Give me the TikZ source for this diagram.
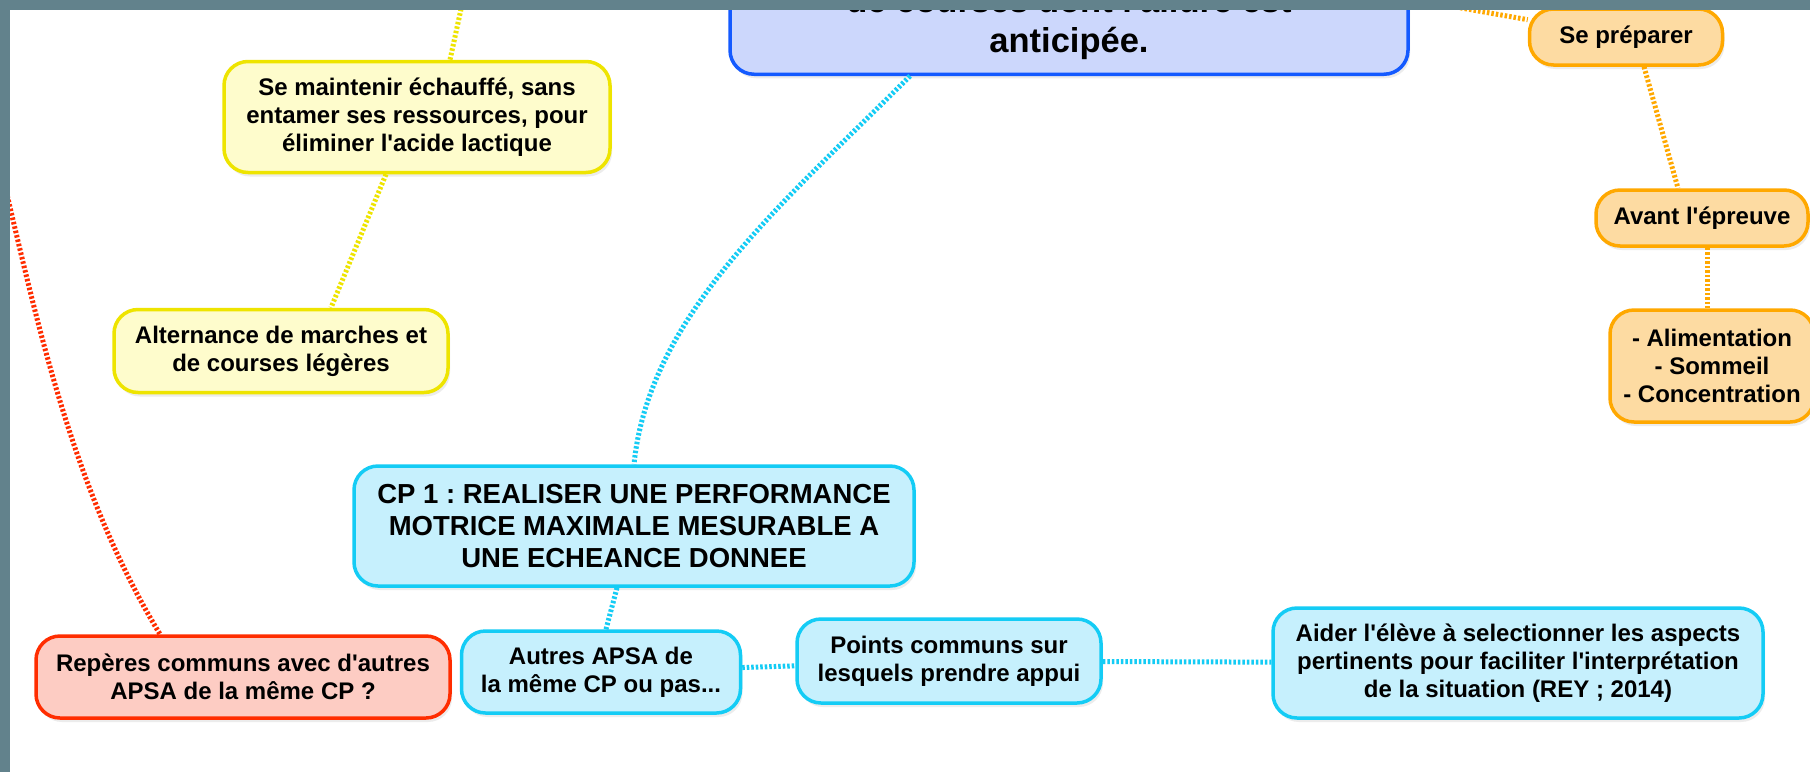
\documentclass[tikz,border=0pt]{standalone}
\usepackage{fontspec}
\setmainfont{Liberation Sans}[Ligatures=TeXOff]
\usetikzlibrary{shadows}
\frenchspacing

\definecolor{fond}{RGB}{98,130,140}
\definecolor{rootfill}{RGB}{204,215,252}
\definecolor{rootdraw}{RGB}{20,90,255}
\definecolor{cyanfill}{RGB}{198,240,253}
\definecolor{cyandraw}{RGB}{20,204,245}
\definecolor{jaunefill}{RGB}{254,252,204}
\definecolor{jaunedraw}{RGB}{238,228,0}
\definecolor{orangefill}{RGB}{253,219,162}
\definecolor{orangedraw}{RGB}{255,168,0}
\definecolor{rougefill}{RGB}{253,204,195}
\definecolor{rougedraw}{RGB}{255,45,0}

\begin{document}
\begin{tikzpicture}[x=1pt,y=-1pt,
      box/.style={draw,rounded corners=24pt,line width=3.5pt,align=center,
        inner sep=0pt,font=\fontsize{24}{28}\selectfont\bfseries,
        drop shadow={opacity=0.15,shadow xshift=2pt,shadow yshift=-4pt}},
      racine/.style={box,draw=rootdraw,fill=rootfill},
      bleu/.style={box,draw=cyandraw,fill=cyanfill},
      jaune/.style={box,draw=jaunedraw,fill=jaunefill},
      orange/.style={box,draw=orangedraw,fill=orangefill},
      rouge/.style={box,draw=rougedraw,fill=rougefill},
      link/.style={line width=5pt,dash pattern=on 2.5pt off 2pt}]
      \useasboundingbox (0,0) rectangle (1810,772);
      \clip (0,0) rectangle (1810,772);
      \fill[white] (0,0) rectangle (1810,772);

      % centre
      \node[racine,anchor=south,minimum width=678pt,inner ysep=15pt,
        font=\fontsize{34.5}{40}\selectfont\bfseries]
        (root) at (1069, 76) {de courses dont l'allure est\\anticipée.};

      % branche CP
      \node[bleu,minimum width=560pt,minimum height=120pt,
        font=\fontsize{27.5}{32}\selectfont\bfseries]
        (cp) at ( 634, 526) {CP 1 : REALISER UNE PERFORMANCE\\MOTRICE MAXIMALE MESURABLE A\\UNE ECHEANCE DONNEE};
      \node[bleu,minimum width=279pt,minimum height=82pt]
        (autres) at ( 601, 672) {Autres APSA de\\la même CP ou pas...};
      \node[bleu,minimum width=304pt,minimum height=84pt]
        (points) at ( 949, 661) {Points communs sur\\lesquels prendre appui};
      \node[bleu,minimum width=490pt,minimum height=110pt]
        (aider) at (1518, 663) {Aider l'élève à selectionner les aspects\\pertinents pour faciliter l'interprétation\\de la situation (REY ; 2014)};

      % branche jaune
      \node[jaune,minimum width=386pt,minimum height=111pt]
        (chaud) at ( 417, 117) {Se maintenir échauffé, sans\\entamer ses ressources, pour\\éliminer l'acide lactique};
      \node[jaune,minimum width=334pt,minimum height=83pt]
        (alter) at ( 281, 351) {Alternance de marches et\\de courses légères};

      % branche rouge
      \node[rouge,minimum width=414pt,minimum height=82pt]
        (reperes) at ( 243, 677) {Repères communs avec d'autres\\APSA de la même CP ?};

      % branche orange
      \node[orange,minimum width=193pt,minimum height=56pt]
        (prep) at (1626,  37) {Se préparer};
      \node[orange,minimum width=212pt,minimum height=56pt]
        (avant) at (1702, 218) {Avant l'épreuve};
      \node[orange,minimum width=204pt,minimum height=112pt]
        (regime) at (1712, 366) {- Alimentation\\- Sommeil\\- Concentration};

      \coordinate (jtop)  at ( 463,   0);
      \coordinate (otop)  at (1416,   0);
      \coordinate (rleft) at (   0, 165);

      \draw[link,cyandraw] ([xshift=-159pt]root.south) .. controls (780,206) and (649,316) .. (cp.north);
      \draw[link,cyandraw] ([xshift=-17pt]cp.south) -- ([xshift=5pt]autres.north);
      \draw[link,cyandraw] (autres) -- (points);
      \draw[link,cyandraw] (points) -- (aider);

      \draw[link,jaunedraw] (jtop) -- ([xshift=33pt]chaud.north);
      \draw[link,jaunedraw] ([xshift=-31pt]chaud.south) -- ([xshift=50pt]alter.north);

      \draw[link,rougedraw] (rleft) .. controls (36,315) and (70,486) .. ([xshift=-83pt]reperes.north);

      \draw[link,orangedraw] (otop) -- (prep);
      \draw[link,orangedraw] ([xshift=18pt]prep.south) -- ([xshift=-24pt]avant.north);
      \draw[link,orangedraw] ([xshift=5pt]avant.south) -- ([xshift=-5pt]regime.north);

      % bord de la fenetre
      \fill[fond] (0,0) rectangle (1810,10);
      \fill[fond] (0,0) rectangle (10,772);
\end{tikzpicture}
\end{document}
